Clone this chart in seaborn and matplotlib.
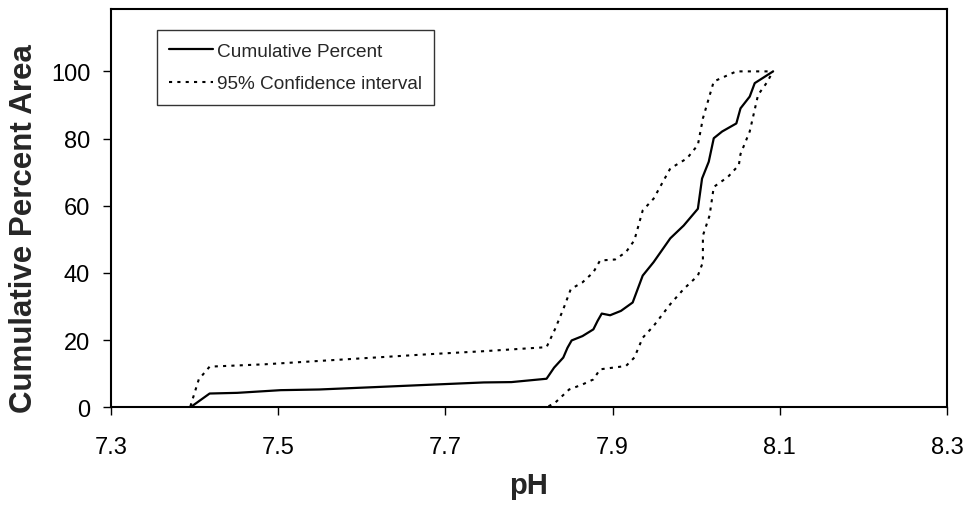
import numpy as np
import pandas as pd
import matplotlib
matplotlib.use("Agg")
import matplotlib.pyplot as plt
import seaborn as sns

sns.set_style("white")
plt.rcParams['font.family'] = ['Liberation Sans', 'DejaVu Sans']

# cumulative percent area curve
cum_ph = [7.395, 7.418, 7.451, 7.503, 7.549, 7.615, 7.680, 7.746, 7.779, 7.821,
          7.830, 7.841, 7.846, 7.851, 7.864, 7.877, 7.882, 7.887, 7.897, 7.910,
          7.924, 7.930, 7.936, 7.949, 7.969, 7.985, 8.002, 8.007, 8.015, 8.021,
          8.031, 8.048, 8.053, 8.064, 8.070, 8.092]
cum_pct = [0.0, 4.1, 4.3, 5.1, 5.3, 6.0, 6.7, 7.4, 7.5, 8.5,
           11.8, 14.8, 17.7, 19.9, 21.2, 23.2, 25.7, 27.9, 27.4, 28.7,
           31.2, 35.2, 39.2, 43.2, 50.3, 54.1, 59.1, 68.1, 73.1, 80.1,
           82.1, 84.5, 89.0, 92.5, 96.5, 100.0]

# upper 95% confidence bound
upper_ph = [7.395, 7.405, 7.418, 7.484, 7.549, 7.615, 7.680, 7.746, 7.821, 7.831,
            7.841, 7.850, 7.864, 7.877, 7.885, 7.903, 7.916, 7.926, 7.936, 7.949,
            7.969, 7.989, 8.002, 8.008, 8.021, 8.048, 8.092]
upper_pct = [0.3, 8.3, 12.1, 12.8, 13.8, 14.8, 15.8, 16.7, 17.9, 23.2,
             29.2, 35.2, 37.2, 40.2, 43.7, 44.0, 46.2, 49.7, 58.6, 62.1,
             71.1, 74.1, 78.1, 86.0, 97.0, 100.0, 100.0]

# lower 95% confidence bound
lower_ph = [7.395, 7.821, 7.831, 7.848, 7.864, 7.877, 7.885, 7.916, 7.926, 7.936,
            7.949, 7.969, 7.985, 8.002, 8.008, 8.008, 8.016, 8.021, 8.038, 8.051,
            8.053, 8.064, 8.074, 8.084, 8.092]
lower_pct = [0.0, 0.0, 1.3, 5.3, 6.8, 8.3, 11.3, 12.3, 14.8, 20.7,
             24.2, 30.7, 35.2, 39.2, 43.2, 51.1, 57.1, 65.6, 68.6, 72.1,
             75.4, 82.1, 93.0, 96.5, 100.0]

fig = plt.figure(figsize=(9.71, 5.06), dpi=100)
ax = fig.add_axes([0.1143, 0.1931, 0.861, 0.788])

dots = (0, (1.5, 2.5))
sns.lineplot(x=cum_ph, y=cum_pct, ax=ax, color="black", lw=1.6,
             estimator=None, sort=False, label="Cumulative Percent")
sns.lineplot(x=upper_ph, y=upper_pct, ax=ax, color="black", lw=1.5,
             linestyle=dots, estimator=None, sort=False, label="95% Confidence interval")
sns.lineplot(x=lower_ph, y=lower_pct, ax=ax, color="black", lw=1.5,
             linestyle=dots, estimator=None, sort=False, legend=False)

ax.set_xlim(7.3, 8.3)
ax.set_ylim(0, 118.7)
ax.set_xticks([7.3, 7.5, 7.7, 7.9, 8.1, 8.3])
ax.set_xticklabels(["7.3", "7.5", "7.7", "7.9", "8.1", "8.3"])
ax.set_yticks([0, 20, 40, 60, 80, 100])

for s in ax.spines.values():
    s.set_color("black")
    s.set_linewidth(1.5)
ax.tick_params(axis="both", direction="out", length=6, width=1, colors="black",
               labelsize=17, left=True, bottom=True)
ax.tick_params(axis="x", pad=15)
ax.tick_params(axis="y", pad=9)

ax.set_xlabel("pH", fontsize=21, fontweight="bold", labelpad=9)
ax.set_ylabel("Cumulative Percent Area", fontsize=22.5, fontweight="bold")
ax.yaxis.set_label_coords(-0.086, 0.452)

leg = ax.legend(loc="upper left", bbox_to_anchor=(0.055, 0.946), fontsize=13.7,
                frameon=True, fancybox=False, borderaxespad=0, handlelength=2.3,
                handletextpad=0.2, labelspacing=0.8, borderpad=0.65)
leg.get_frame().set_edgecolor("black")
leg.get_frame().set_linewidth(1.0)

fig.savefig("out.png", dpi=100)
